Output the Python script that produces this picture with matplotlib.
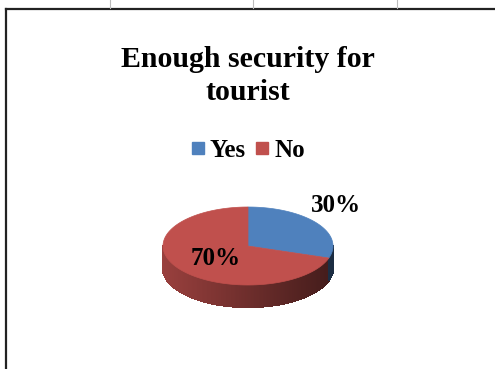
import numpy as np
import matplotlib
matplotlib.use("Agg")
import matplotlib.pyplot as plt
from matplotlib.patches import Polygon, Rectangle

# data
categories = ["Yes", "No"]
values = [30, 70]
colors = ["#4F81BD", "#C0504D"]
title = "Enough security for\ntourist"

plt.rcParams['font.family'] = ['Liberation Serif', 'DejaVu Serif']

W, H = 495, 369
fig = plt.figure(figsize=(W / 100, H / 100), dpi=100)
ax = fig.add_axes([0, 0, 1, 1])
ax.set_xlim(0, W)
ax.set_ylim(H, 0)
ax.axis('off')

# frame of the chart box
ax.plot([6, 6], [9, H], color='#222222', lw=1.6)
ax.plot([6, W], [9, 9], color='#222222', lw=1.6)
for x in [110, 253, 397]:
    ax.plot([x, x], [0, 8], color='#bbbbbb', lw=0.8)

# title
lines = title.split("\n")
ax.text(248, 67, lines[0], ha='center', va='baseline', fontsize=21.5, fontweight='bold')
ax.text(248, 100, lines[1], ha='center', va='baseline', fontsize=21.5, fontweight='bold')

# legend
lx = 192
for cat, col in zip(categories, colors):
    ax.add_patch(Rectangle((lx, 142), 12, 12, color=col))
    t = ax.text(lx + 18, 157, cat, ha='left', va='baseline', fontsize=18, fontweight='bold')
    fig.canvas.draw()
    bb = t.get_window_extent().transformed(ax.transData.inverted())
    lx = bb.x1 + 10

# 3d pie
cx, cy, rx, ry, depth = 248, 246, 85, 39, 22
fracs = np.array(values) / sum(values)
start = 90.0
angles = [start]
for f in fracs:
    angles.append(angles[-1] - 360 * f)


def pt(t, dy=0):
    r = np.radians(t)
    return cx + rx * np.cos(r), cy - ry * np.sin(r) + dy


# side walls (front half, angle 180..360)
steps = np.linspace(180, 360, 181)
for a0, a1 in zip(steps[:-1], steps[1:]):
    mid = (a0 + a1) / 2
    m = mid % 360
    col = colors[-1]
    for i in range(len(values)):
        hi, lo = angles[i] % 360, angles[i + 1] % 360
        if hi < lo:
            inside = m <= hi or m >= lo
        else:
            inside = lo <= m <= hi
        if inside:
            col = colors[i]
            break
    xn = (np.cos(np.radians(mid)) + 1) / 2
    shade = 0.8 - 0.45 * xn
    rgb = np.array(matplotlib.colors.to_rgb(col)) * shade
    p = [pt(a0), pt(a1), pt(a1, depth), pt(a0, depth)]
    ax.add_patch(Polygon(p, closed=True, facecolor=rgb, edgecolor=rgb, lw=1.0,
                         antialiased=False))

# top faces
for i in range(len(values)):
    ts = np.linspace(angles[i], angles[i + 1], 200)
    p = [(cx, cy)] + [pt(t) for t in ts]
    ax.add_patch(Polygon(p, closed=True, facecolor=colors[i], edgecolor=colors[i], lw=0.5))

# percentage labels
ax.text(336, 212, f"{values[0]}%", ha='center', va='baseline', fontsize=18, fontweight='bold')
ax.text(216, 265, f"{values[1]}%", ha='center', va='baseline', fontsize=18, fontweight='bold')

fig.savefig("out.png", dpi=100)
